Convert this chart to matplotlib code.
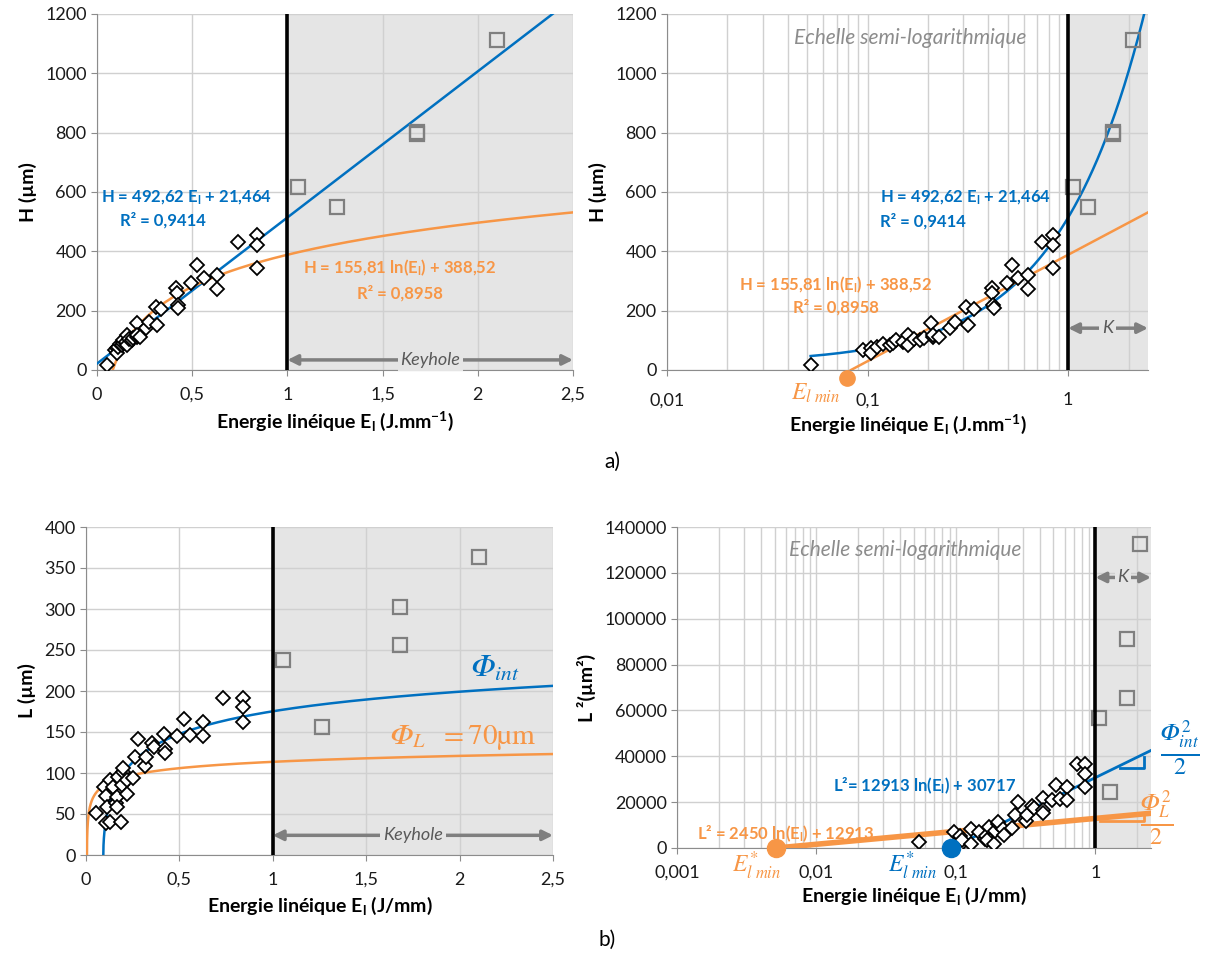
import numpy as np
import matplotlib
matplotlib.use('Agg')
import matplotlib.pyplot as plt
from matplotlib.ticker import FixedLocator, LogLocator, NullFormatter

plt.rcParams['font.family'] = ['Lato', 'DejaVu Sans']
plt.rcParams['mathtext.fontset'] = 'custom'
plt.rcParams['mathtext.rm'] = 'Lato'
plt.rcParams['mathtext.bf'] = 'Lato:bold'
plt.rcParams['mathtext.it'] = 'Lato:italic'

# --- data ---
# a) penetration depth H vs linear energy
E_h = [0.052, 0.095, 0.104, 0.104, 0.112, 0.12, 0.129, 0.134, 0.138, 0.15, 0.159, 0.159,
       0.17, 0.182, 0.19, 0.208, 0.212, 0.212, 0.226, 0.257, 0.272, 0.311, 0.316, 0.338,
       0.416, 0.418, 0.424, 0.427, 0.495, 0.523, 0.563, 0.632, 0.632, 0.74, 0.84, 0.84, 0.84]
H = [17, 67, 73, 56, 79, 88, 84, 90, 101, 95, 118, 84,
     105, 101, 108, 157, 112, 118, 112, 140, 163, 213, 152, 205,
     275, 258, 219, 208, 292, 354, 310, 320, 272, 432, 455, 421, 343]
E_hk = [1.054, 1.262, 1.682, 1.682, 2.102]
H_k = [618, 548, 803, 797, 1114]

# b) width L vs linear energy
E_l = [0.054, 0.096, 0.107, 0.107, 0.111, 0.129, 0.129, 0.146, 0.161, 0.164, 0.168, 0.173,
       0.186, 0.191, 0.2, 0.2, 0.218, 0.221, 0.254, 0.263, 0.28, 0.316, 0.321, 0.352, 0.364,
       0.418, 0.423, 0.423, 0.489, 0.525, 0.557, 0.629, 0.629, 0.733, 0.84, 0.843, 0.843]
L = [51.6, 82.5, 38.6, 72, 59, 40.6, 91.5, 83.3, 63.8, 71, 59, 95.5,
     40.6, 85, 101.6, 106, 91.5, 75, 93.5, 120, 141.5, 108.5, 120, 136, 132,
     147.5, 129, 124, 145, 166, 146, 162.6, 145, 191, 191, 180, 162.6]
E_lk = [1.054, 1.263, 1.683, 1.683, 2.102]
L_k = [237.8, 156.5, 302, 256, 364]

# trendline coefficients printed on the chart
lin_a, lin_b = 492.62, 21.464
log_a, log_b = 155.81, 388.52
int_a, int_b = 12913, 30717
phl_a, phl_b = 2450, 12913

BLUE = '#0070C0'
ORANGE = '#F79646'
GREY = '#7F7F7F'
SHADE = '#E5E5E5'
GRID = '#D0D0D0'
W, Hpx = 1205, 957
TICK = 13
LAB = 14
PHI = '\U0001D6F7'  # mathematical italic capital phi


def fx(x):
    return x / W


def fy(y):
    return 1 - y / Hpx


def style(ax):
    for s in ['top', 'right']:
        ax.spines[s].set_visible(False)
    for s in ['left', 'bottom']:
        ax.spines[s].set_color('#8C8C8C')
    ax.tick_params(colors='#8C8C8C', labelcolor='#1A1A1A', labelsize=TICK, length=4)
    ax.tick_params(which='minor', length=0)
    ax.set_axisbelow(True)
    ax.grid(True, which='both', color=GRID, lw=1)


def points(ax, x, y, xk, yk):
    ax.plot(x, y, 'D', ms=7.5, mfc='white', mec='black', mew=1.3, zorder=4)
    ax.plot(xk, yk, 's', ms=10.5, mfc='none', mec=GREY, mew=1.6, zorder=4)


def arrow(ax, x0, x1, y, label, xt, fs):
    ax.annotate('', xy=(x0, y), xytext=(x1, y),
                arrowprops=dict(arrowstyle='<|-|>', color=GREY, lw=2.5,
                                mutation_scale=15, shrinkA=0, shrinkB=0), zorder=3)
    ax.text(xt, y, label, ha='center', va='center', color='#595959', fontsize=fs,
            style='italic', bbox=dict(fc=SHADE, ec='none', pad=2), zorder=3)


fig = plt.figure(figsize=(12.05, 9.57), dpi=100)

ax1 = fig.add_axes([fx(97), fy(370), fx(476), 356 / Hpx])
ax2 = fig.add_axes([fx(667), fy(370), fx(481), 356 / Hpx])
ax3 = fig.add_axes([fx(86), fy(855), fx(467), 328 / Hpx])
ax4 = fig.add_axes([fx(677), fy(848), fx(474), 321 / Hpx])

xlab_a = r'Energie linéique E$_\mathbf{l}$ (J.mm$^\mathbf{-1}$)'
xlab_b = r'Energie linéique E$_\mathbf{l}$ (J/mm)'

# ---- a) left : linear scale ----
style(ax1)
ax1.axvspan(1, 2.5, color=SHADE, zorder=0.1, lw=0)
ax1.set_xlim(0, 2.5)
ax1.set_ylim(0, 1200)
ax1.set_xticks([0, 0.5, 1, 1.5, 2, 2.5])
ax1.set_xticklabels(['0', '0,5', '1', '1,5', '2', '2,5'])
ax1.tick_params(axis='x', pad=8)
ax1.set_yticks(range(0, 1201, 200))
xs = np.linspace(0, 2.5, 300)
ax1.plot(xs, lin_a * xs + lin_b, color=BLUE, lw=1.8, zorder=3)
xs = np.linspace(np.exp(-log_b / log_a), 2.5, 400)
ax1.plot(xs, log_a * np.log(xs) + log_b, color=ORANGE, lw=1.8, zorder=3)
ax1.axvline(1, color='black', lw=2.6, zorder=5)
points(ax1, E_h, H, E_hk, H_k)
arrow(ax1, 1, 2.5, 34, 'Keyhole', 1.75, 13)
ax1.set_xlabel(xlab_a, fontsize=LAB, fontweight='bold', labelpad=5)
ax1.set_ylabel('H (µm)', fontsize=LAB, fontweight='bold', labelpad=6)

# ---- a) right : semi-log ----
style(ax2)
ax2.set_xscale('log')
ax2.axvspan(1, 2.5, color=SHADE, zorder=0.1, lw=0)
ax2.set_xlim(0.01, 2.5)
ax2.set_ylim(0, 1200)
ax2.xaxis.set_major_locator(FixedLocator([0.01, 0.1, 1]))
ax2.xaxis.set_minor_locator(LogLocator(base=10, subs=np.arange(2, 10)))
ax2.xaxis.set_minor_formatter(NullFormatter())
ax2.set_xticklabels(['0,01', '0,1', '1'])
ax2.tick_params(axis='x', pad=12)
ax2.set_yticks(range(0, 1201, 200))
xs = np.logspace(np.log10(0.052), np.log10(2.5), 300)
ax2.plot(xs, lin_a * xs + lin_b, color=BLUE, lw=1.8, zorder=3)
emin = np.exp(-log_b / log_a)
xs = np.logspace(np.log10(emin), np.log10(2.5), 300)
ax2.plot(xs, log_a * np.log(xs) + log_b, color=ORANGE, lw=1.8, zorder=3)
ax2.axvline(1, color='black', lw=2.6, zorder=5)
points(ax2, E_h, H, E_hk, H_k)
ax2.plot([emin * 0.96], [-26], 'o', ms=11, color=ORANGE, clip_on=False, zorder=6)
arrow(ax2, 1, 2.5, 141, 'K', 1.57, 13)
ax2.set_xlabel(xlab_a, fontsize=LAB, fontweight='bold', labelpad=3)
ax2.set_ylabel('H (µm)', fontsize=LAB, fontweight='bold', labelpad=6)
fig.text(fx(840), fy(393), r'$\mathit{E}_{l\ min}$', math_fontfamily='stix', color=ORANGE,
         fontsize=17, ha='right', va='center')
fig.text(fx(910), fy(38), 'Echelle semi-logarithmique', color='#8C8C8C', fontsize=15,
         style='italic', ha='center', va='center')

# ---- b) left : linear scale ----
style(ax3)
ax3.axvspan(1, 2.5, color=SHADE, zorder=0.1, lw=0)
ax3.set_xlim(0, 2.5)
ax3.set_ylim(0, 400)
ax3.set_xticks([0, 0.5, 1, 1.5, 2, 2.5])
ax3.set_xticklabels(['0', '0,5', '1', '1,5', '2', '2,5'])
ax3.tick_params(axis='x', pad=8)
ax3.set_yticks(range(0, 401, 50))
e0 = np.exp(-int_b / int_a)
xs = np.logspace(np.log10(e0), np.log10(2.5), 600)
ax3.plot(xs, np.sqrt(np.clip(int_a * np.log(xs) + int_b, 0, None)), color=BLUE, lw=1.8, zorder=3)
e1 = np.exp(-phl_b / phl_a)
xs = np.logspace(np.log10(e1), np.log10(2.5), 600)
ax3.plot(xs, np.sqrt(np.clip(phl_a * np.log(xs) + phl_b, 0, None)), color=ORANGE, lw=1.8, zorder=3)
ax3.axvline(1, color='black', lw=2.6, zorder=5)
points(ax3, E_l, L, E_lk, L_k)
arrow(ax3, 1, 2.5, 24, 'Keyhole', 1.75, 13)
ax3.set_xlabel(xlab_b, fontsize=LAB, fontweight='bold', labelpad=5)
ax3.set_ylabel('L (µm)', fontsize=LAB, fontweight='bold', labelpad=6)
fig.text(fx(495), fy(668), '$' + PHI + r'_{int}$', math_fontfamily='stix', color=BLUE,
         fontsize=22, ha='center', va='center')
fig.text(fx(463), fy(738), '$' + PHI + r'_L\ \ = \mathrm{70µm}$', math_fontfamily='stix',
         color=ORANGE, fontsize=21, ha='center', va='center')

# ---- b) right : semi-log of L^2 ----
style(ax4)
ax4.set_xscale('log')
ax4.axvspan(1, 2.5, color=SHADE, zorder=0.1, lw=0)
ax4.set_xlim(0.001, 2.5)
ax4.set_ylim(0, 140000)
ax4.xaxis.set_major_locator(FixedLocator([0.001, 0.01, 0.1, 1]))
ax4.xaxis.set_minor_locator(LogLocator(base=10, subs=np.arange(2, 10)))
ax4.xaxis.set_minor_formatter(NullFormatter())
ax4.set_xticklabels(['0,001', '0,01', '0,1', '1'])
ax4.tick_params(axis='x', pad=8)
ax4.set_yticks(range(0, 140001, 20000))
xs = np.logspace(np.log10(e0), np.log10(2.5), 200)
ax4.plot(xs, int_a * np.log(xs) + int_b, color=BLUE, lw=2, zorder=3)
xs = np.logspace(np.log10(e1), np.log10(2.5), 200)
ax4.plot(xs, phl_a * np.log(xs) + phl_b, color=ORANGE, lw=4, zorder=3)
ax4.axvline(1, color='black', lw=2.6, zorder=5)
points(ax4, E_l, np.array(L) ** 2, E_lk, np.array(L_k) ** 2)
ax4.plot([e1], [0], 'o', ms=13, color=ORANGE, clip_on=False, zorder=6)
ax4.plot([e0], [0], 'o', ms=13, color=BLUE, clip_on=False, zorder=6)
arrow(ax4, 1, 2.5, 118000, 'K', 1.57, 13)
# slope marks at the right edge
ax4.plot([1.5, 2.23, 2.23], [34900, 34900, 39700], color=BLUE, lw=2, zorder=4)
ax4.plot([1.08, 2.23, 2.23], [11800, 11800, 14400], color=ORANGE, lw=2, zorder=4)
ax4.set_xlabel(xlab_b, fontsize=LAB, fontweight='bold', labelpad=3)
ax4.set_ylabel('L ²(µm²)', fontsize=LAB, fontweight='bold', labelpad=6)
fig.text(fx(905), fy(550), 'Echelle semi-logarithmique', color='#8C8C8C', fontsize=15,
         style='italic', ha='center', va='center')
fig.text(fx(757), fy(866), r'$\mathit{E}_{l\ min}^{*}$', math_fontfamily='stix', color=ORANGE,
         fontsize=17, ha='center', va='center')
fig.text(fx(913), fy(866), r'$\mathit{E}_{l\ min}^{*}$', math_fontfamily='stix', color=BLUE,
         fontsize=17, ha='center', va='center')
fig.text(fx(1180), fy(748), r'$\frac{' + PHI + r'_{int}^2}{2}$', math_fontfamily='stix',
         color=BLUE, fontsize=25, ha='center', va='center')
fig.text(fx(1157), fy(818), r'$\frac{' + PHI + r'_{L}^2}{2}$', math_fontfamily='stix',
         color=ORANGE, fontsize=25, ha='center', va='center')

# trendline equations
eq = dict(fontsize=12, fontweight='bold', va='center')
fig.text(fx(187), fy(198), r'H = 492,62 E$_\mathbf{l}$ + 21,464', color=BLUE, ha='center', **eq)
fig.text(fx(120), fy(220), 'R² = 0,9414', color=BLUE, ha='left', **eq)
fig.text(fx(400), fy(268), r'H = 155,81 ln(E$_\mathbf{l}$) + 388,52', color=ORANGE, ha='center', **eq)
fig.text(fx(400), fy(293), 'R² = 0,8958', color=ORANGE, ha='center', **eq)
fig.text(fx(880), fy(198), r'H = 492,62 E$_\mathbf{l}$ + 21,464', color=BLUE, ha='left', **eq)
fig.text(fx(880), fy(221), 'R² = 0,9414', color=BLUE, ha='left', **eq)
fig.text(fx(836), fy(285), r'H = 155,81 ln(E$_\mathbf{l}$) + 388,52', color=ORANGE, ha='center', **eq)
fig.text(fx(836), fy(307), 'R² = 0,8958', color=ORANGE, ha='center', **eq)
fig.text(fx(833), fy(786), r'L²= 12913 ln(E$_\mathbf{l}$) + 30717', color=BLUE, ha='left', **eq)
fig.text(fx(697), fy(834), r'L² = 2450 ln(E$_\mathbf{l}$) + 12913', color=ORANGE, ha='left', **eq)

fig.text(fx(612), fy(462), 'a)', fontsize=15, ha='center', va='center')
fig.text(fx(607), fy(940), 'b)', fontsize=15, ha='center', va='center')

fig.savefig('out.png', dpi=100)
